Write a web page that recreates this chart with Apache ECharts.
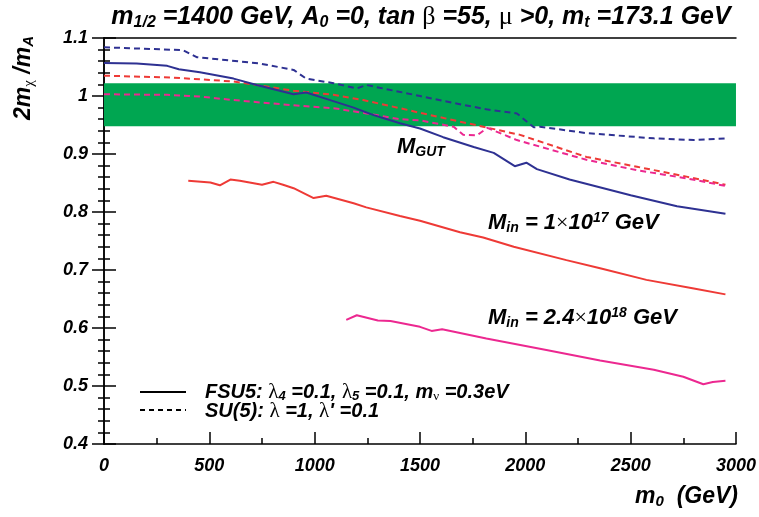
<!DOCTYPE html>
<html>
<head>
<meta charset="utf-8">
<script src="https://cdn.jsdelivr.net/npm/echarts@6/dist/echarts.min.js"></script>
<style>
  html, body { margin: 0; padding: 0; background: #fff; }
  #chart { width: 759px; height: 517px; }
</style>
</head>
<body>
<div id="chart"></div>
<script>
// m0 (GeV) vs 2 m_chi / m_A
// FSU5 (solid) and SU(5) (dashed) for three input scales
const fsu5Gut = [[0,1.057],[155,1.056],[300,1.052],[355,1.046],[455,1.041],[615,1.030],[725,1.019],[900,1.003],[960,1.006],[1055,0.995],[1185,0.980],[1280,0.967],[1405,0.953],[1500,0.944],[1610,0.929],[1755,0.912],[1850,0.902],[1950,0.879],[2005,0.885],[2055,0.874],[2210,0.856],[2500,0.829],[2720,0.810],[2950,0.797]];
const su5Gut = [[0,1.084],[375,1.079],[440,1.067],[740,1.056],[900,1.045],[960,1.030],[1090,1.022],[1200,1.013],[1245,1.019],[1325,1.013],[1500,1.000],[1660,0.988],[1815,0.977],[1960,0.970],[2040,0.946],[2070,0.947],[2290,0.936],[2610,0.927],[2800,0.924],[2950,0.927]];
const fsu5Min17 = [[400,0.854],[505,0.851],[550,0.846],[600,0.856],[645,0.854],[750,0.847],[805,0.852],[850,0.847],[900,0.841],[995,0.824],[1055,0.828],[1185,0.815],[1245,0.808],[1405,0.793],[1500,0.785],[1690,0.765],[1800,0.756],[1945,0.740],[2195,0.717],[2355,0.703],[2575,0.683],[2800,0.668],[2950,0.658]];
const su5Min17 = [[0,1.035],[315,1.032],[615,1.025],[725,1.019],[900,1.009],[1090,1.002],[1230,0.993],[1405,0.979],[1500,0.971],[1800,0.947],[1975,0.933],[2165,0.910],[2290,0.895],[2530,0.878],[2765,0.861],[2950,0.847]];
const fsu5Min18 = [[1150,0.614],[1200,0.622],[1300,0.613],[1360,0.612],[1500,0.602],[1555,0.595],[1605,0.598],[1815,0.582],[2100,0.562],[2355,0.544],[2610,0.528],[2750,0.516],[2845,0.503],[2890,0.507],[2950,0.509]];
const su5Min18 = [[0,1.003],[300,1.002],[455,0.999],[615,0.993],[770,0.988],[930,0.983],[1090,0.979],[1245,0.970],[1405,0.960],[1500,0.958],[1660,0.947],[1705,0.933],[1770,0.932],[1820,0.945],[1960,0.924],[2290,0.890],[2530,0.872],[2765,0.858],[2950,0.845]];
// preferred range of 2 m_chi / m_A
const bandRange = [0.948, 1.022];
const xRange = [0, 3000];
const yRange = [0.4, 1.1];

const BLUE = '#2e3192', RED = '#ee3a36', PINK = '#ec2890', GREEN = '#00a651';
const SANS = '"Liberation Sans", Arial, sans-serif';
const SERIF = '"Liberation Serif", "DejaVu Serif", serif';

function rich(size) {
  const sub = Math.round(size * 0.65);
  return {
    i: { fontFamily: SANS, fontWeight: 'bold', fontStyle: 'italic', fontSize: size },
    s: { fontFamily: SANS, fontWeight: 'bold', fontStyle: 'italic', fontSize: sub, padding: [Math.round(size * 0.45), 0, 0, 0] },
    p: { fontFamily: SANS, fontWeight: 'bold', fontStyle: 'italic', fontSize: sub, padding: [0, 0, Math.round(size * 0.45), 0] },
    g: { fontFamily: SERIF, fontSize: size + 1 },
    gs: { fontFamily: SERIF, fontSize: sub, padding: [Math.round(size * 0.45), 0, 0, 0] },
    x: { fontFamily: SERIF, fontSize: size }
  };
}
function withColor(r, c) {
  Object.keys(r).forEach(k => { r[k].color = c; });
  return r;
}

const axisLabelStyle = { fontFamily: SANS, fontWeight: 'bold', fontStyle: 'italic', fontSize: 18, color: '#000' };
const frameLine = { show: true, lineStyle: { color: '#000', width: 1.5 } };

function line(name, data, color, dashed) {
  return {
    name, type: 'line', data, showSymbol: false, z: 3, animation: false,
    lineStyle: { color, width: 2, type: dashed ? [6, 4] : 'solid' },
    itemStyle: { color }
  };
}

const chart = echarts.init(document.getElementById('chart'));
chart.setOption({
  backgroundColor: '#fff',
  animation: false,
  grid: { left: 104, right: 23, top: 38, bottom: 73 },
  xAxis: [
    { type: 'value', min: xRange[0], max: xRange[1], interval: 500, position: 'bottom',
      axisLine: frameLine,
      axisTick: { show: true, inside: true, length: 12, lineStyle: { color: '#000', width: 1.5 } },
      minorTick: { show: true, splitNumber: 2, length: 6, lineStyle: { color: '#000', width: 1.5 } },
      splitLine: { show: false }, minorSplitLine: { show: false },
      axisLabel: Object.assign({ margin: 13, formatter: v => String(v) }, axisLabelStyle) },
    { type: 'value', min: xRange[0], max: xRange[1], position: 'top',
      axisLine: frameLine, axisTick: { show: false }, axisLabel: { show: false }, splitLine: { show: false } }
  ],
  yAxis: [
    { type: 'value', min: yRange[0], max: yRange[1], interval: 0.1, position: 'left',
      axisLine: frameLine,
      axisTick: { show: true, inside: true, length: 12, lineStyle: { color: '#000', width: 1.5 } },
      minorTick: { show: true, splitNumber: 5, length: 6, lineStyle: { color: '#000', width: 1.5 } },
      splitLine: { show: false }, minorSplitLine: { show: false },
      axisLabel: Object.assign({ margin: 16, formatter: v => (Math.abs(v - 1) < 1e-9 ? '1' : v.toFixed(1)) }, axisLabelStyle) },
    { type: 'value', min: yRange[0], max: yRange[1], interval: 0.1, position: 'right',
      axisLine: frameLine,
      axisTick: { show: true, inside: true, length: 12, lineStyle: { color: '#000', width: 1.5 } },
      minorTick: { show: true, splitNumber: 5, length: 6, lineStyle: { color: '#000', width: 1.5 } },
      splitLine: { show: false }, axisLabel: { show: false } }
  ],
  series: [
    { name: 'band', type: 'line', data: [], z: 1, silent: true,
      markArea: { silent: true, itemStyle: { color: GREEN, opacity: 1 },
        data: [[{ xAxis: xRange[0], yAxis: bandRange[0] }, { xAxis: xRange[1], yAxis: bandRange[1] }]] } },
    line('SU(5) M_GUT', su5Gut, BLUE, true),
    line('SU(5) M_in 1e17', su5Min17, RED, true),
    line('SU(5) M_in 2.4e18', su5Min18, PINK, true),
    line('FSU5 M_GUT', fsu5Gut, BLUE, false),
    line('FSU5 M_in 1e17', fsu5Min17, RED, false),
    line('FSU5 M_in 2.4e18', fsu5Min18, PINK, false)
  ],
  graphic: [
    { type: 'text', x: 421, y: 17, z: 10,
      style: { text: '{i|m}{s|1/2}{i| =1400 GeV, A}{s|0}{i| =0, tan }{g|β}{i| =55, }{g|μ}{i| >0, m}{s|t}{i| =173.1 GeV}',
        rich: rich(25), align: 'center', verticalAlign: 'middle', fill: '#000' } },
    { type: 'text', x: 24, y: 78, rotation: Math.PI / 2, z: 10,
      style: { text: '{i|2m}{gs|χ}{i| /m}{s|A}', rich: rich(23), align: 'center', verticalAlign: 'middle', fill: '#000' } },
    { type: 'text', x: 738, y: 497, z: 10,
      style: { text: '{i|m}{s|0}{i|  (GeV)}', rich: rich(23), align: 'right', verticalAlign: 'middle', fill: '#000' } },
    { type: 'text', x: 397, y: 147, z: 10,
      style: { text: '{i|M}{s|GUT}', rich: withColor(rich(22), BLUE), align: 'left', verticalAlign: 'middle' } },
    { type: 'text', x: 488, y: 223, z: 10,
      style: { text: '{i|M}{s|in}{i| = 1}{x|×}{i|10}{p|17}{i| GeV}', rich: withColor(rich(22), RED), align: 'left', verticalAlign: 'middle' } },
    { type: 'text', x: 488, y: 318, z: 10,
      style: { text: '{i|M}{s|in}{i| = 2.4}{x|×}{i|10}{p|18}{i| GeV}', rich: withColor(rich(22), PINK), align: 'left', verticalAlign: 'middle' } },
    { type: 'line', z: 10, shape: { x1: 140, y1: 392, x2: 186, y2: 392 }, style: { stroke: '#000', lineWidth: 2 } },
    { type: 'line', z: 10, shape: { x1: 140, y1: 410, x2: 186, y2: 410 }, style: { stroke: '#000', lineWidth: 2, lineDash: [5, 4] } },
    { type: 'text', x: 205, y: 392, z: 10,
      style: { text: '{i|FSU5: }{g|λ}{s|4}{i| =0.1, }{g|λ}{s|5}{i| =0.1, m}{gs|ν}{i| =0.3eV}', rich: rich(20), align: 'left', verticalAlign: 'middle', fill: '#000' } },
    { type: 'text', x: 205, y: 411, z: 10,
      style: { text: "{i|SU(5): }{g|λ}{i| =1, }{g|λ}{i|' =0.1}", rich: rich(20), align: 'left', verticalAlign: 'middle', fill: '#000' } }
  ]
});
</script>
</body>
</html>
